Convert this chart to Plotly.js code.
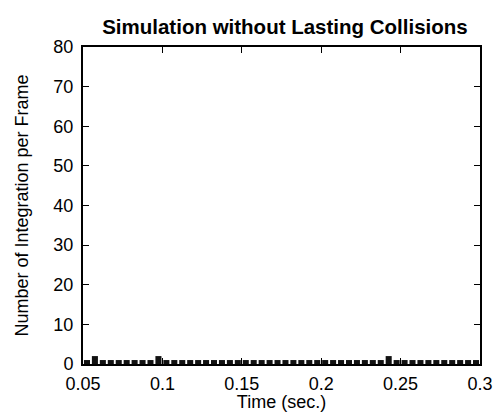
<!DOCTYPE html>
<html>
<head>
<meta charset="utf-8">
<script src="https://cdn.plot.ly/plotly-3.0.1.min.js"></script>
<style>html,body{margin:0;padding:0;background:#fff;}#chart{width:493px;height:412px;}</style>
</head>
<body>
<div id="chart"></div>
<script>
// Frame times (sec.) - bar centers, 0.005 s per frame
var frameTimes = [0.0525,0.0575,0.0625,0.0675,0.0725,0.0775,0.0825,0.0875,0.0925,0.0975,
                  0.1025,0.1075,0.1125,0.1175,0.1225,0.1275,0.1325,0.1375,0.1425,0.1475,
                  0.1525,0.1575,0.1625,0.1675,0.1725,0.1775,0.1825,0.1875,0.1925,0.1975,
                  0.2025,0.2075,0.2125,0.2175,0.2225,0.2275,0.2325,0.2375,0.2425,0.2475,
                  0.2525,0.2575,0.2625,0.2675,0.2725,0.2775,0.2825,0.2875,0.2925,0.2975];
// Number of integrations per frame
var integrations = [1,2,1,1,1,1,1,1,1,2,
                    1,1,1,1,1,1,1,1,1,1,
                    1,1,1,1,1,1,1,1,1,1,
                    1,1,1,1,1,1,1,1,2,1,
                    1,1,1,1,1,1,1,1,1,1];
var xTicks = [0.05,0.1,0.15,0.2,0.25,0.3];
var xTickText = ["0.05","0.1","0.15","0.2","0.25","0.3"];
var yTicks = [0,10,20,30,40,50,60,70,80];

var font = "Liberation Sans, Arial, Helvetica, sans-serif";
var data = [{
  type: "bar",
  x: frameTimes,
  y: integrations,
  width: 0.0038,
  marker: {color: "#111", line: {width: 0}},
  hoverinfo: "x+y"
}];
var layout = {
  width: 493, height: 412,
  margin: {l: 83, r: 13, t: 47, b: 48},
  paper_bgcolor: "#fff", plot_bgcolor: "#fff",
  showlegend: false,
  title: {text: "<b>Simulation without Lasting Collisions</b>", x: 0.578, xanchor: "center", y: 0.934, yanchor: "middle",
          font: {family: font, size: 20.5, color: "#000"}},
  xaxis: {
    range: [0.05, 0.3], tickvals: xTicks, ticktext: xTickText,
    ticks: "inside", ticklen: 6, tickwidth: 1, tickcolor: "#000",
    showline: true, linecolor: "#000", linewidth: 2, mirror: "ticks",
    showgrid: false, zeroline: false,
    ticklabelstandoff: 2,
    tickfont: {family: font, size: 18, color: "#000"},
    title: {text: "Time (sec.)", font: {family: font, size: 18, color: "#000"}, standoff: 0}
  },
  yaxis: {
    range: [0, 80], tickvals: yTicks,
    ticks: "inside", ticklen: 6, tickwidth: 1, tickcolor: "#000",
    showline: true, linecolor: "#000", linewidth: 2, mirror: "ticks",
    showgrid: false, zeroline: false,
    ticklabelstandoff: 4,
    tickfont: {family: font, size: 18, color: "#000"},
    title: {text: "Number of Integration per Frame", font: {family: font, size: 18, color: "#000"}, standoff: 20}
  }
};
Plotly.newPlot("chart", data, layout, {displayModeBar: false, staticPlot: true});
</script>
</body>
</html>
